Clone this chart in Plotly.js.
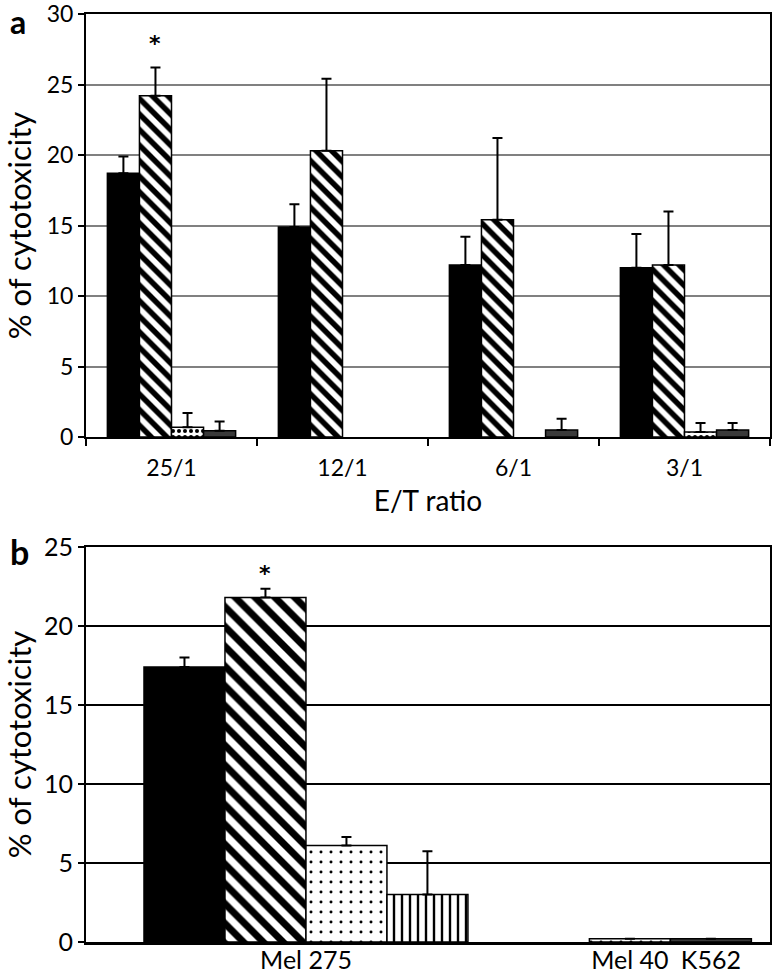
<!DOCTYPE html>
<html>
<head>
<meta charset="utf-8">
<script src="https://cdn.plot.ly/plotly-3.0.1.min.js"></script>
<style>
  html, body { margin: 0; padding: 0; background: #ffffff; }
  #chart { width: 774px; height: 978px; }
</style>
</head>
<body>
<div id="chart"></div>
<script>
// ---------- Panel a data (E/T ratio) ----------
const etRatios = ["25/1", "12/1", "6/1", "3/1"];
const aBlack      = [18.7, 14.9, 12.2, 12.0];
const aBlackErr   = [1.2, 1.6, 2.0, 2.4];
const aHatched    = [24.2, 20.3, 15.4, 12.2];
const aHatchedErr = [2.0, 5.1, 5.8, 3.8];
const aDotted     = [0.7, null, null, 0.35];
const aDottedErr  = [1.0, 0, 0, 0.65];
const aGray       = [0.45, null, 0.5, 0.5];
const aGrayErr    = [0.65, 0, 0.8, 0.5];
const aStarValue  = 27.9;

// ---------- Panel b data (targets) ----------
const targetsB     = ["Mel 275", "Mel 40", "K562"];
const bBlack       = [17.4, null, null];
const bBlackErr    = [0.6, null, null];
const bHatched     = [21.8, null, null];
const bHatchedErr  = [0.55, null, null];
const bDotted      = [6.1, 0.2, null];
const bDottedErr   = [0.55, 0, null];
const bVertical    = [3.0, null, null];
const bVerticalErr = [2.75, null, null];
const bGray        = [null, null, 0.2];
const bGrayErr     = [null, null, 0];
const bStarValue   = 23.3;

// ---------- styles / layout constants ----------
const FONT = "Lato, 'Open Sans', 'Liberation Sans', sans-serif";
const W = 774, H = 978;
const plotL = 86, plotR = 770;
const aTop = 14, aBot = 437, bTop = 547, bBot = 942;
const bargapA = 0.25;
const bCenters = [2, 6, 7];          // category centres on panel b axis (bar-width units)
const bRange = [-0.716, 7.73];

const lineStyle = { color: "black", width: 1.5 };
function errStyle(arr) {
  return { type: "data", symmetric: false, array: arr, arrayminus: arr.map(() => 0),
           color: "black", thickness: 2, width: 5, visible: true };
}
const styles = {
  black:   { color: "black", line: lineStyle },
  hatched: (size) => ({ color: "white", line: lineStyle,
             pattern: { shape: "\\", size: size, solidity: 0.5, fgcolor: "black", bgcolor: "white", fillmode: "replace" } }),
  dotted:  (size, sol) => ({ color: "white", line: lineStyle,
             pattern: { shape: ".", size: size, solidity: sol, fgcolor: "black", bgcolor: "white", fillmode: "replace" } }),
  vertical: { color: "white", line: lineStyle,
             pattern: { shape: "|", size: 8, solidity: 0.3, fgcolor: "black", bgcolor: "white", fillmode: "replace" } },
  gray:    { color: "#3a3a3a", line: lineStyle }
};

// ---------- panel a traces ----------
const tracesA = [
  { y: aBlack,   err: aBlackErr,   marker: styles.black,           name: "series 1" },
  { y: aHatched, err: aHatchedErr, marker: styles.hatched(11),     name: "series 2" },
  { y: aDotted,  err: aDottedErr,  marker: styles.dotted(6, 0.35), name: "series 3" },
  { y: aGray,    err: aGrayErr,    marker: styles.gray,            name: "series 4" }
].map(s => ({
  type: "bar", x: etRatios, y: s.y, name: s.name, marker: s.marker,
  error_y: errStyle(s.err), xaxis: "x", yaxis: "y", showlegend: false, hoverinfo: "y"
}));

// ---------- panel b traces: positions computed from the category centres ----------
const bSeries = [
  { y: bBlack,    err: bBlackErr,    marker: styles.black },
  { y: bHatched,  err: bHatchedErr,  marker: styles.hatched(14) },
  { y: bDotted,   err: bDottedErr,   marker: styles.dotted(10, 0.07) },
  { y: bVertical, err: bVerticalErr, marker: styles.vertical },
  { y: bGray,     err: bGrayErr,     marker: styles.gray }
];
// bars present in a category are laid side by side around its centre
const bPos = bSeries.map(() => targetsB.map(() => null));
targetsB.forEach((t, ci) => {
  const present = bSeries.map((s, si) => s.y[ci] != null ? si : -1).filter(i => i >= 0);
  present.forEach((si, k) => { bPos[si][ci] = bCenters[ci] - present.length / 2 + k + 0.5; });
});
const tracesB = bSeries.map((s, si) => {
  const xs = [], ys = [], es = [];
  targetsB.forEach((t, ci) => {
    if (s.y[ci] != null) { xs.push(bPos[si][ci]); ys.push(s.y[ci]); es.push(s.err[ci] || 0); }
  });
  return { type: "bar", x: xs, y: ys, width: 1, offset: -0.5, marker: s.marker,
           error_y: errStyle(es), xaxis: "x2", yaxis: "y2", showlegend: false, hoverinfo: "y" };
});

// hatched bar centre in panel a (category units)
const wA = (1 - bargapA) / 4;
const hatchedOffsetA = -0.5 * wA;

const axisCommon = {
  showline: true, linecolor: "black", linewidth: 2, mirror: true,
  zeroline: false, automargin: false, fixedrange: true,
  ticklabeloverflow: "allow",
  tickfont: { family: FONT, size: 23, color: "black" }
};

const layout = {
  width: W, height: H,
  margin: { l: 0, r: 0, t: 0, b: 0 },
  paper_bgcolor: "white", plot_bgcolor: "white",
  font: { family: FONT, color: "black" },
  barmode: "group", bargap: bargapA, bargroupgap: 0,
  showlegend: false,
  xaxis: Object.assign({}, axisCommon, {
    domain: [plotL / W, plotR / W], anchor: "y",
    type: "category", showgrid: false,
    ticks: "outside", tickson: "boundaries", ticklen: 7, tickwidth: 2, tickcolor: "black",
    ticklabelstandoff: 9,
    title: { text: "E/T ratio", font: { family: FONT, size: 28, color: "black" }, standoff: 12 }
  }),
  yaxis: Object.assign({}, axisCommon, {
    domain: [1 - aBot / H, 1 - aTop / H], anchor: "x",
    range: [0, 30], dtick: 5, tick0: 0,
    showgrid: true, gridcolor: "#808080", gridwidth: 2,
    ticks: "outside", ticklen: 6, tickwidth: 2, tickcolor: "black",
    title: { text: "% of cytotoxicity", font: { family: FONT, size: 31, color: "black" }, standoff: 8 }
  }),
  xaxis2: Object.assign({}, axisCommon, {
    domain: [plotL / W, plotR / W], anchor: "y2",
    range: bRange, showgrid: false, ticks: "",
    tickmode: "array", tickvals: bCenters, ticktext: targetsB,
    linewidth: 2.5, ticklabelstandoff: -6,
    tickfont: { family: FONT, size: 25, color: "black" }
  }),
  yaxis2: Object.assign({}, axisCommon, {
    domain: [1 - bBot / H, 1 - bTop / H], anchor: "x2",
    range: [0, 25], dtick: 5, tick0: 0,
    showgrid: true, gridcolor: "black", gridwidth: 1.5,
    ticks: "outside", ticklen: 6, tickwidth: 2, tickcolor: "black",
    tickfont: { family: FONT, size: 25, color: "black" },
    title: { text: "% of cytotoxicity", font: { family: FONT, size: 31, color: "black" }, standoff: 8 }
  }),
  annotations: [
    { text: "<b>a</b>", xref: "paper", yref: "paper", x: 8 / W, y: 1,
      xanchor: "left", yanchor: "top", showarrow: false, font: { family: FONT, size: 32, color: "black" } },
    { text: "<b>b</b>", xref: "paper", yref: "paper", x: 8 / W, y: 1 - 551 / H,
      xanchor: "left", yanchor: "middle", showarrow: false, font: { family: FONT, size: 34, color: "black" } },
    { text: "<b>*</b>", xref: "x", yref: "y", x: hatchedOffsetA, y: aStarValue,
      showarrow: false, font: { family: "'DejaVu Sans', sans-serif", size: 22, color: "black" } },
    { text: "<b>*</b>", xref: "x2", yref: "y2", x: bPos[1][0], y: bStarValue,
      showarrow: false, font: { family: "'DejaVu Sans', sans-serif", size: 22, color: "black" } }
  ]
};

Plotly.newPlot("chart", tracesA.concat(tracesB), layout, { staticPlot: true, displayModeBar: false });
</script>
</body>
</html>
